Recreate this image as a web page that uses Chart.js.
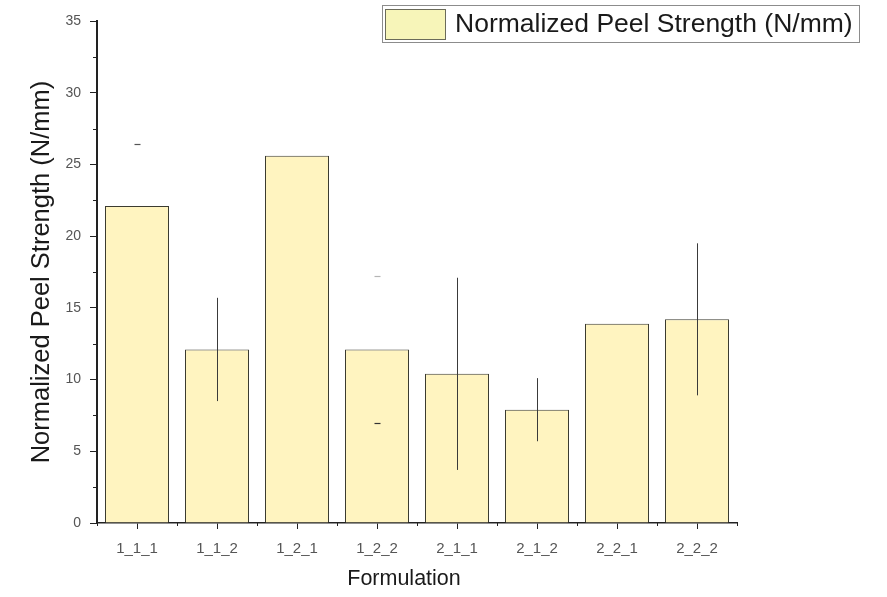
<!DOCTYPE html>
<html>
<head>
<meta charset="utf-8">
<script src="https://cdn.jsdelivr.net/npm/chart.js@4/dist/chart.umd.min.js"></script>
<style>
  html, body { margin: 0; padding: 0; background: #ffffff; }
  #wrap { width: 887px; height: 597px; position: relative; }
</style>
</head>
<body>
<div id="wrap"><canvas id="chart" width="887" height="597"></canvas></div>
<script>
// Formulations and their normalized peel strength (mean and error half-width)
const categories = ['1_1_1', '1_1_2', '1_2_1', '1_2_2', '2_1_1', '2_1_2', '2_2_1', '2_2_2'];
const peelStrength = [22.1, 12.1, 25.6, 12.1, 10.4, 7.9, 13.9, 14.2];
const peelError = [4.3, 3.6, 0, 5.1, 6.7, 2.2, 0, 5.3];
// how each error bar appears: full whisker, only its top end, or only both end marks
const errorMarks = ['top', 'line', null, 'ends', 'line', 'line', null, 'line'];
const yTicks = [0, 5, 10, 15, 20, 25, 30, 35];

const seriesLabel = 'Normalized Peel Strength (N/mm)';
const xTitle = 'Formulation';
const FONT = "'Liberation Sans', Arial, sans-serif";

function dash(ctx, cx, py, color) {
  ctx.strokeStyle = color;
  ctx.lineWidth = 1.2;
  ctx.beginPath();
  ctx.moveTo(cx - 3, py);
  ctx.lineTo(cx + 3, py);
  ctx.stroke();
}

// Error bars, minor ticks, x title and the boxed legend
const extrasPlugin = {
  id: 'extras',
  afterDatasetsDraw(chart) {
    const ctx = chart.ctx;
    const x = chart.scales.x, y = chart.scales.y;
    ctx.save();
    peelStrength.forEach((v, i) => {
      const e = peelError[i];
      const mode = errorMarks[i];
      if (!e || !mode) return;
      const cx = Math.round(x.getPixelForValue(i)) + 0.5;
      const yTop = y.getPixelForValue(v + e);
      const yBot = y.getPixelForValue(v - e);
      if (mode === 'line') {
        ctx.strokeStyle = '#3a3a3a';
        ctx.lineWidth = 1;
        ctx.beginPath();
        ctx.moveTo(cx, yTop);
        ctx.lineTo(cx, yBot);
        ctx.stroke();
      } else if (mode === 'top') {
        dash(ctx, cx, Math.round(yTop) + 0.5, '#555');
      } else {
        dash(ctx, cx, Math.round(yTop) + 0.5, '#b5b5b5');
        dash(ctx, cx, Math.round(yBot) + 0.5, '#333');
      }
    });
    ctx.restore();
  },
  afterDraw(chart) {
    const ctx = chart.ctx;
    const x = chart.scales.x, y = chart.scales.y;
    const area = chart.chartArea;
    ctx.save();
    ctx.strokeStyle = '#222';
    ctx.lineWidth = 1;
    // minor y ticks halfway between the labelled ones
    for (let i = 0; i < yTicks.length - 1; i++) {
      const py = Math.round(y.getPixelForValue((yTicks[i] + yTicks[i + 1]) / 2)) + 0.5;
      ctx.beginPath();
      ctx.moveTo(area.left - 4, py);
      ctx.lineTo(area.left, py);
      ctx.stroke();
    }
    // minor x ticks on the category boundaries
    for (let i = 0; i <= categories.length; i++) {
      const px = Math.round(x.getPixelForValue(i - 0.5)) + 0.5;
      ctx.beginPath();
      ctx.moveTo(px, area.bottom);
      ctx.lineTo(px, area.bottom + 3);
      ctx.stroke();
    }
    // x axis title
    ctx.fillStyle = '#1a1a1a';
    ctx.font = '21.5px ' + FONT;
    ctx.textAlign = 'center';
    ctx.textBaseline = 'middle';
    ctx.fillText(xTitle, 404, 579);
    // legend
    const lx = 382, ly = 5, lw = 477, lh = 37;
    ctx.fillStyle = '#ffffff';
    ctx.fillRect(lx, ly, lw, lh);
    ctx.strokeStyle = '#8c8c8c';
    ctx.lineWidth = 1;
    ctx.strokeRect(lx + 0.5, ly + 0.5, lw, lh);
    ctx.fillStyle = '#f7f5b9';
    ctx.fillRect(385, 9, 60, 30);
    ctx.strokeStyle = '#6b6b5a';
    ctx.strokeRect(385.5, 9.5, 60, 30);
    ctx.fillStyle = '#1a1a1a';
    ctx.font = '26.5px ' + FONT;
    ctx.textBaseline = 'middle';
    ctx.textAlign = 'left';
    ctx.fillText(seriesLabel, 455, 25);
    ctx.restore();
  }
};

new Chart(document.getElementById('chart'), {
  type: 'bar',
  data: {
    labels: categories,
    datasets: [{
      label: seriesLabel,
      data: peelStrength,
      backgroundColor: '#fff4c0',
      borderColor: '#3b3b30',
      borderWidth: 1,
      borderSkipped: 'bottom',
      categoryPercentage: 1.0,
      barPercentage: 0.8
    }]
  },
  options: {
    responsive: false,
    animation: false,
    devicePixelRatio: 1,
    layout: { padding: { top: 21, right: 150, left: 0, bottom: 0 } },
    plugins: {
      legend: { display: false },
      tooltip: { enabled: false }
    },
    scales: {
      x: {
        offset: true,
        afterFit(scale) { scale.height = 74; },
        grid: {
          display: true,
          offset: false,
          drawOnChartArea: false,
          drawTicks: true,
          tickLength: 6,
          tickColor: '#222',
          tickWidth: 1
        },
        border: { display: true, color: '#222', width: 1.5 },
        ticks: {
          color: '#555',
          font: { family: FONT, size: 15 },
          padding: 11,
          maxRotation: 0
        },
        title: { display: false }
      },
      y: {
        min: 0,
        max: 35,
        afterFit(scale) { scale.width = 97; },
        afterBuildTicks(scale) { scale.ticks = yTicks.map(v => ({ value: v })); },
        grid: {
          display: true,
          drawOnChartArea: false,
          drawTicks: true,
          tickLength: 7,
          tickColor: '#222',
          tickWidth: 1
        },
        border: { display: true, color: '#222', width: 2 },
        ticks: {
          color: '#555',
          font: { family: FONT, size: 14 },
          padding: 9
        },
        title: {
          display: true,
          text: 'Normalized Peel Strength (N/mm)',
          color: '#1a1a1a',
          font: { family: FONT, size: 25.5 },
          padding: { top: 27, bottom: 0 }
        }
      }
    }
  },
  plugins: [extrasPlugin]
});
</script>
</body>
</html>
